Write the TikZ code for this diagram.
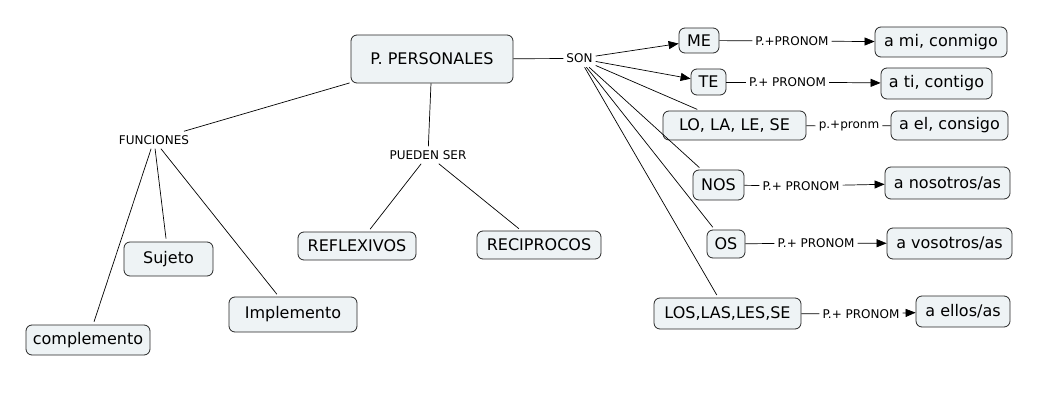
\documentclass[tikz,border=0pt]{standalone}
\usepackage{fontspec}
\setmainfont{DejaVu Sans}
\usetikzlibrary{arrows.meta}
\definecolor{boxfill}{HTML}{EEF3F5}
\begin{document}
\begin{tikzpicture}[x=1pt,y=-1pt,
  concept/.style={draw=black!85,fill=boxfill,rounded corners=6pt,line width=0.8pt,
    inner sep=0pt,font=\fontsize{16}{19}\selectfont},
  lab/.style={inner xsep=3pt,inner ysep=4pt,font=\fontsize{12}{14}\selectfont},
  link/.style={line width=0.7pt,draw=black},
  arr/.style={link,-{Triangle[length=10pt,width=8pt]}},
  gap/.style={link,shorten >=3pt}]
\useasboundingbox (0,0) rectangle (1057,401);
% concepts
\node[concept,minimum width=162pt,minimum height=48pt] (pp) at (432,59) {P. PERSONALES};
\node[concept,minimum width=40pt,minimum height=25pt] (me) at (699,40.5) {ME};
\node[concept,minimum width=132pt,minimum height=30pt] (ami) at (941,42) {a mi, conmigo};
\node[concept,minimum width=35pt,minimum height=26pt] (te) at (708.5,82) {TE};
\node[concept,minimum width=111pt,minimum height=31pt] (ati) at (936.5,83.5) {a ti, contigo};
\node[concept,minimum width=143pt,minimum height=29pt] (lo) at (734.5,125.5) {LO, LA, LE, SE};
\node[concept,minimum width=117pt,minimum height=29pt] (ael) at (949.5,125.5) {a el, consigo};
\node[concept,minimum width=51pt,minimum height=30pt] (nos) at (718.5,185) {NOS};
\node[concept,minimum width=125pt,minimum height=32pt] (anos) at (947.5,183) {a nosotros/as};
\node[concept,minimum width=38pt,minimum height=28pt] (os) at (726,244) {OS};
\node[concept,minimum width=125pt,minimum height=31pt] (avos) at (949.5,243.5) {a vosotros/as};
\node[concept,minimum width=147pt,minimum height=31pt] (los) at (727.5,313.5) {LOS,LAS,LES,SE};
\node[concept,minimum width=94pt,minimum height=31pt] (aell) at (963,311.5) {a ellos/as};
\node[concept,minimum width=89pt,minimum height=34pt] (suj) at (168.5,259) {Sujeto};
\node[concept,minimum width=124pt,minimum height=30pt] (comp) at (88,340) {complemento};
\node[concept,minimum width=128pt,minimum height=35pt] (impl) at (293,314.5) {Implemento};
\node[concept,minimum width=118pt,minimum height=28pt] (refl) at (357,246) {REFLEXIVOS};
\node[concept,minimum width=124pt,minimum height=28pt] (reci) at (539,245) {RECIPROCOS};
% linking phrases
\node[lab] (son) at (579.5,58.5) {SON};
\node[lab] (fun) at (154,140) {FUNCIONES};
\node[lab] (pue) at (428,155) {PUEDEN SER};
\node[lab] (l1) at (792,41) {P.+PRONOM};
\node[lab] (l2) at (787.5,82) {P.+ PRONOM};
\node[lab] (l3) at (849,126) {p.+pronm};
\node[lab] (l4) at (801,186) {P.+ PRONOM};
\node[lab] (l5) at (816,243) {P.+ PRONOM};
\node[lab] (l6) at (861,314) {P.+ PRONOM};
% connectors
\draw[link] (pp) -- (son);
\draw[arr] (son) -- (me);
\draw[arr] (son) -- (te);
\draw[gap] (son) -- (lo);
\draw[gap] (son) -- (nos);
\draw[gap] (son) -- (os);
\draw[gap] (son) -- (los);
\draw[link,shorten >=1pt] (fun) -- (pp);
\draw[gap] (fun) -- (comp);
\draw[gap] (fun) -- (suj);
\draw[gap] (fun) -- (impl);
\draw[link] (pp) -- (pue);
\draw[gap] (pue) -- (refl);
\draw[gap] (pue) -- (reci);
\draw[link] (me) -- (l1);
\draw[arr] (l1) -- (ami);
\draw[link] (te) -- (l2);
\draw[arr] (l2) -- (ati);
\draw[link] (lo) -- (l3);
\draw[link] (l3) -- (ael);
\draw[link] (nos) -- (l4);
\draw[arr] (l4) -- (anos);
\draw[link] (os) -- (l5);
\draw[arr] (l5) -- (avos);
\draw[link] (los) -- (l6);
\draw[arr] (l6) -- (aell);
\end{tikzpicture}
\end{document}
